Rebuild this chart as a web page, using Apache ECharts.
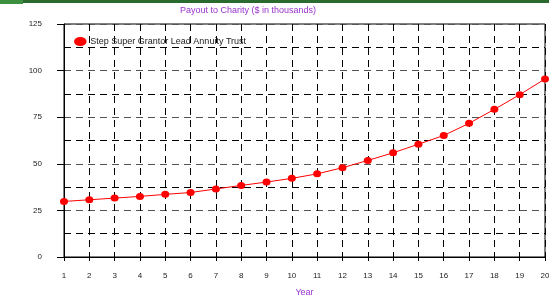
<!DOCTYPE html>
<html>
<head>
<meta charset="utf-8">
<script src="https://cdn.jsdelivr.net/npm/echarts@6/dist/echarts.min.js"></script>
<style>
  html, body { margin: 0; padding: 0; background: #fff; }
  #chart { width: 549px; height: 297px; }
</style>
</head>
<body>
<div id="chart"></div>
<script>
const years = [1, 2, 3, 4, 5, 6, 7, 8, 9, 10, 11, 12, 13, 14, 15, 16, 17, 18, 19, 20]
const payout = [29.8, 30.7, 31.6, 32.5, 33.6, 34.6, 36.5, 38.4, 40.2, 42.2,
  44.6, 47.9, 51.8, 55.9, 60.5, 65.2, 71.7, 79.2, 87.1, 95.5]
const seriesName = 'Step Super Grantor Lead Annuity Trust'

const chart = echarts.init(document.getElementById('chart'))
const font = 'Liberation Sans, Arial, sans-serif'
const dash = [7, 5]

chart.setOption({
  animation: false,
  graphic: [
    { type: 'rect', left: 0, top: 0, shape: { width: 549, height: 3 }, style: { fill: '#2a6a2e' } },
    { type: 'rect', left: 0, top: 0, shape: { width: 23, height: 4 }, style: { fill: '#3d8f40' } },
    {
      type: 'text', left: 180, top: 6,
      style: { text: 'Payout to Charity ($ in thousands)', fill: '#9933cc', font: '9px ' + font },
    },
  ],
  legend: {
    left: 69, top: 32,
    itemWidth: 14, itemHeight: 9, itemGap: 4,
    icon: 'path://M0 5A7 5 0 1 0 14 5A7 5 0 1 0 0 5Z',
    textStyle: { fontSize: 9, color: '#222', fontFamily: font, padding: [2, 0, 0, -2] },
    data: [seriesName],
  },
  grid: {
    left: 64, right: 4, top: 24, bottom: 40,
    outerBoundsMode: 'none',
    show: true, borderColor: '#000', borderWidth: 1,
  },
  xAxis: {
    type: 'value', min: 1, max: 20, interval: 1,
    name: 'Year', nameLocation: 'middle', nameGap: 31,
    nameTextStyle: { color: '#9933cc', fontSize: 9, fontFamily: font },
    axisLine: { lineStyle: { color: '#000', width: 1 } },
    axisTick: { length: 4, lineStyle: { color: '#000' } },
    axisLabel: { color: '#222', fontSize: 8, fontFamily: font, margin: 15 },
    splitLine: { show: true, lineStyle: { color: '#000', type: dash } },
  },
  yAxis: {
    type: 'value', min: 0, max: 125, interval: 25,
    axisLine: { show: true, lineStyle: { color: '#000', width: 1 } },
    axisTick: { show: true, length: 7, lineStyle: { color: '#000' } },
    axisLabel: { color: '#222', fontSize: 8, fontFamily: font, margin: 22 },
    splitLine: { show: true, lineStyle: { color: '#555', type: dash } },
    minorTick: { show: false, splitNumber: 2 },
    minorSplitLine: { show: true, lineStyle: { color: '#000', type: dash } },
  },
  series: [{
    name: seriesName,
    type: 'line',
    data: years.map((y, i) => [y, payout[i]]),
    symbol: 'circle',
    symbolSize: [8, 7],
    lineStyle: { color: '#ff0000', width: 1 },
    itemStyle: { color: '#ff0000' },
  }],
})
</script>
</body>
</html>
